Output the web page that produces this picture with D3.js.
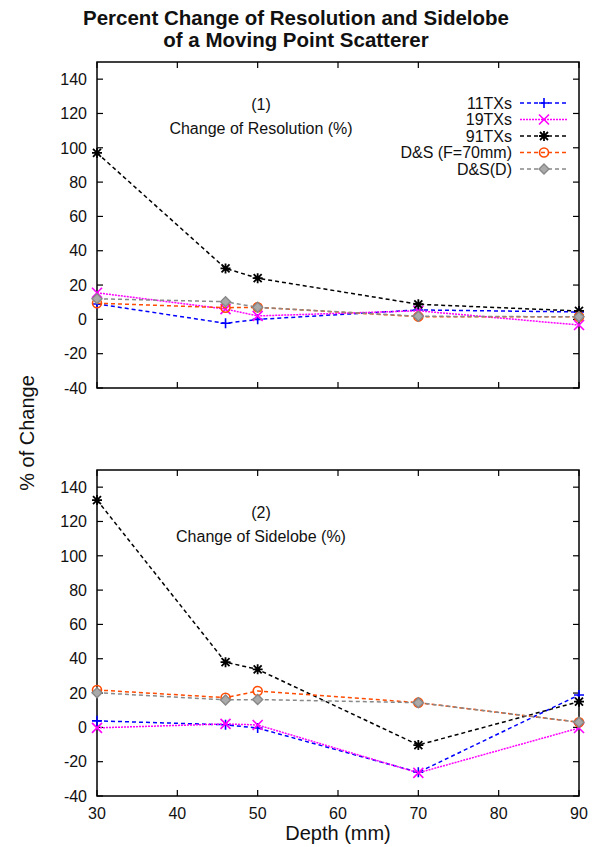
<!DOCTYPE html>
<html>
<head>
<meta charset="utf-8">
<script src="https://cdn.jsdelivr.net/npm/d3@7"></script>
<style>
  body { margin: 0; background: #fff; }
  svg text { font-family: "Liberation Sans", Arial, Helvetica, sans-serif; fill: #111; }
</style>
</head>
<body>
<div id="chart"></div>
<script>
// depth values (mm)
const depths = [30, 46, 50, 70, 90];
const seriesNames = ["11TXs", "19TXs", "91TXs", "D&S (F=70mm)", "D&S(D)"];

// panel (1): change of resolution (%)
const res11 = [9, -2.3, 0, 5.5, 4.3];
const res19 = [15.5, 6, 2, 5, -3.3];
const res91 = [97, 29.7, 24, 8.8, 4.9];
const resDSF = [9.4, 6.8, 7, 1.6, 1.5];
const resDSD = [12, 10.3, 7, 1.8, 1.5];

// panel (2): change of sidelobe (%)
const side11 = [3.8, 1.5, -0.4, -26.2, 18.9];
const side19 = [-0.3, 2, 1.4, -26.5, -0.4];
const side91 = [132.5, 38, 33.8, -10.3, 15];
const sideDSF = [21.8, 17.3, 21.2, 14.4, 3];
const sideDSD = [20.2, 16, 16.2, 14.4, 3];

const yTicks = [-40, -20, 0, 20, 40, 60, 80, 100, 120, 140];
const xTicks = [30, 40, 50, 60, 70, 80, 90];

const colors = ["#0000ff", "#ff00ff", "#000000", "#ff4a00", "#888888"];
const markers = ["plus", "cross", "star", "circle", "diamond"];

const W = 597, H = 847;
const svg = d3.select("#chart").append("svg")
    .attr("width", W)
    .attr("height", H);

const left = 97, right = 579;
const x = d3.scaleLinear().domain([30, 90]).range([left, right]);

// title
svg.append("text").attr("x", 296).attr("y", 25).attr("text-anchor", "middle")
    .style("font-size", "20.5px").style("font-weight", "bold")
    .text("Percent Change of Resolution and Sidelobe");
svg.append("text").attr("x", 296).attr("y", 47).attr("text-anchor", "middle")
    .style("font-size", "20.5px").style("font-weight", "bold")
    .text("of a Moving Point Scatterer");

// y label
svg.append("text")
    .attr("transform", "translate(34,433) rotate(-90)")
    .attr("text-anchor", "middle")
    .style("font-size", "20px")
    .text("% of Change");

// x label
svg.append("text").attr("x", 338).attr("y", 840).attr("text-anchor", "middle")
    .style("font-size", "20px").text("Depth (mm)");

function drawMarker(g, type, cx, cy, color) {
    const s = 5;
    if (type === "plus") {
        g.append("path").attr("d", `M${cx - s},${cy}H${cx + s}M${cx},${cy - s}V${cy + s}`)
            .attr("stroke", color).attr("stroke-width", 1.6);
    } else if (type === "cross") {
        g.append("path").attr("d", `M${cx - s},${cy - s}L${cx + s},${cy + s}M${cx - s},${cy + s}L${cx + s},${cy - s}`)
            .attr("stroke", color).attr("stroke-width", 1.6);
    } else if (type === "star") {
        g.append("path").attr("d", `M${cx - s},${cy}H${cx + s}M${cx},${cy - s}V${cy + s}M${cx - 4},${cy - 4}L${cx + 4},${cy + 4}M${cx - 4},${cy + 4}L${cx + 4},${cy - 4}`)
            .attr("stroke", color).attr("stroke-width", 1.8);
    } else if (type === "circle") {
        g.append("circle").attr("cx", cx).attr("cy", cy).attr("r", 4.5)
            .attr("fill", "none").attr("stroke", color).attr("stroke-width", 1.6);
    } else if (type === "diamond") {
        g.append("path").attr("d", `M${cx},${cy - 5}L${cx + 5},${cy}L${cx},${cy + 5}L${cx - 5},${cy}Z`)
            .attr("fill", "#aaaaaa").attr("stroke", color).attr("stroke-width", 1.4);
    }
}

function drawPanel(top, bottom, seriesList, label1, label2, showXLabels, showLegend) {
    const y = d3.scaleLinear().domain([-40, 150]).range([bottom, top]);
    const g = svg.append("g");

    // frame
    g.append("rect").attr("x", left).attr("y", top)
        .attr("width", right - left).attr("height", bottom - top)
        .attr("fill", "none").attr("stroke", "#000").attr("stroke-width", 1.5);

    // y ticks left + right (inward)
    const tickLen = 6;
    yTicks.forEach(t => {
        g.append("line").attr("x1", left).attr("x2", left + tickLen)
            .attr("y1", y(t)).attr("y2", y(t)).attr("stroke", "#000").attr("stroke-width", 1.2);
        g.append("line").attr("x1", right).attr("x2", right - tickLen)
            .attr("y1", y(t)).attr("y2", y(t)).attr("stroke", "#000").attr("stroke-width", 1.2);
        g.append("text").attr("x", left - 10).attr("y", y(t)).attr("dy", "0.36em")
            .attr("text-anchor", "end").style("font-size", "16px").text(t);
    });

    // x ticks bottom + top (inward)
    xTicks.forEach(t => {
        g.append("line").attr("x1", x(t)).attr("x2", x(t))
            .attr("y1", bottom).attr("y2", bottom - tickLen).attr("stroke", "#000").attr("stroke-width", 1.2);
        g.append("line").attr("x1", x(t)).attr("x2", x(t))
            .attr("y1", top).attr("y2", top + tickLen).attr("stroke", "#000").attr("stroke-width", 1.2);
        if (showXLabels) {
            g.append("text").attr("x", x(t)).attr("y", bottom + 23)
                .attr("text-anchor", "middle").style("font-size", "16px").text(t);
        }
    });

    // annotations
    g.append("text").attr("x", 261).attr("y", y(150) + 48).attr("text-anchor", "middle")
        .style("font-size", "16px").text(label1);
    g.append("text").attr("x", 261).attr("y", y(150) + 72).attr("text-anchor", "middle")
        .style("font-size", "16px").text(label2);

    const line = d3.line()
        .x((d, i) => x(depths[i]))
        .y(d => y(d));

    seriesList.forEach((vals, k) => {
        g.append("path").datum(vals)
            .attr("d", line)
            .attr("fill", "none")
            .attr("stroke", colors[k])
            .attr("stroke-width", 1.5)
            .attr("stroke-dasharray", k === 1 ? "2,1" : "4,3");
        vals.forEach((v, i) => drawMarker(g, markers[k], x(depths[i]), y(v), colors[k]));
    });

    if (showLegend) {
        const lg = g.append("g");
        seriesNames.forEach((name, k) => {
            const ly = 103 + k * 16.5;
            lg.append("text").attr("x", 512).attr("y", ly).attr("dy", "0.36em")
                .attr("text-anchor", "end").style("font-size", "16px").text(name);
            lg.append("line").attr("x1", 520).attr("x2", 568)
                .attr("y1", ly).attr("y2", ly)
                .attr("stroke", colors[k]).attr("stroke-width", 1.5)
                .attr("stroke-dasharray", k === 1 ? "2,1" : "4,3");
            drawMarker(lg, markers[k], 544, ly, colors[k]);
        });
    }
}

drawPanel(62, 388, [res11, res19, res91, resDSF, resDSD],
    "(1)", "Change of Resolution (%)", false, true);
drawPanel(470, 796, [side11, side19, side91, sideDSF, sideDSD],
    "(2)", "Change of Sidelobe (%)", true, false);
</script>
</body>
</html>
